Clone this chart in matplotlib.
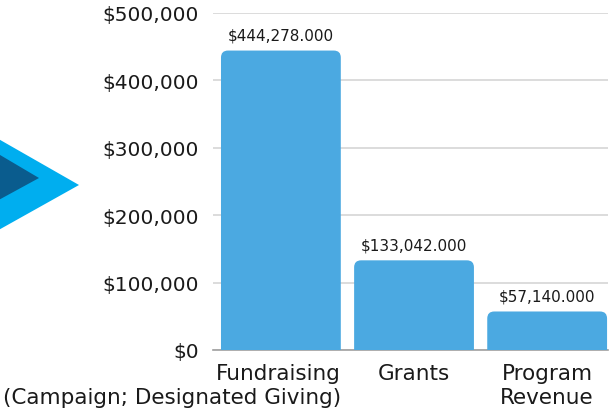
import matplotlib
matplotlib.use("Agg")
import matplotlib.pyplot as plt
from matplotlib.patches import FancyBboxPatch, Polygon
from matplotlib.ticker import FuncFormatter
import matplotlib.transforms as mtransforms

categories = ["Fundraising\n(Campaign; Designated Giving)", "Grants", "Program\nRevenue"]
values = [444278, 133042, 57140]
yticks = [0, 100000, 200000, 300000, 400000, 500000]

W, H = 611, 414
fig = plt.figure(figsize=(W / 100, H / 100), dpi=100)
plt.rcParams['font.family'] = ['DejaVu Sans']

ax_left, ax_right, ax_top, ax_bot = 213, 608, 14, 351
ax = fig.add_axes([ax_left / W, (H - ax_bot) / H, (ax_right - ax_left) / W, (ax_bot - ax_top) / H])

bar_color = "#4BA9E1"
text_color = "#1a1a1a"
xmin, xmax = -0.51, 2.457
ax.set_xlim(xmin, xmax)
ax.set_ylim(0, 500000)

x = list(range(len(values)))
bars = ax.bar(x, values, width=0.9, color=bar_color)

px_x = (xmax - xmin) / (ax_right - ax_left)
px_y = 500000 / (ax_bot - ax_top)
aspect = px_y / px_x
r = 7 * px_x
for b in bars:
    b.set_visible(False)
    x0, w, h = b.get_x(), b.get_width(), b.get_height()
    p = FancyBboxPatch((x0, -r * aspect), w, h + r * aspect,
                       boxstyle=f"round,pad=0,rounding_size={r}",
                       mutation_aspect=aspect, facecolor=bar_color,
                       edgecolor="none", zorder=2)
    ax.add_patch(p)
    ax.text(x0 + w / 2, h + 11500, f"${h:,.3f}", ha="center", va="bottom",
            fontsize=11, color=text_color, zorder=3)

ax.set_yticks(yticks)
ax.yaxis.set_major_formatter(FuncFormatter(lambda v, p: f"${int(v):,}"))
ax.tick_params(axis="y", length=0, pad=10, labelsize=14.5, labelcolor=text_color)
ax.grid(axis="y", color="#d6d6d6", linewidth=1.2, zorder=0)
ax.set_axisbelow(True)
for s in ["left", "right", "top"]:
    ax.spines[s].set_visible(False)
ax.spines["bottom"].set_color("#a0a0a0")
ax.spines["bottom"].set_linewidth(1.2)
ax.spines["bottom"].set_zorder(1)

ax.set_xticks([])
trans = mtransforms.blended_transform_factory(ax.transData, ax.transAxes)
label_pos = [(0.45, "right"), (1, "center"), (2, "center")]
for (xp, ha), lab in zip(label_pos, categories):
    ax.text(xp, -0.038, lab, transform=trans, ha=ha, va="top", multialignment=ha,
            fontsize=15.5, color=text_color, linespacing=1.25)

# decorative arrow triangles
def fpoly(pts, color):
    return Polygon([(px / W, 1 - py / H) for px, py in pts], closed=True,
                   transform=fig.transFigure, facecolor=color, edgecolor="none")

fig.patches.append(fpoly([(-5, 138), (79, 186), (-5, 233)], "#00AEEF"))
fig.patches.append(fpoly([(-5, 153), (39, 179), (-5, 203)], "#0A5C8E"))

fig.savefig("out.png", dpi=100)
